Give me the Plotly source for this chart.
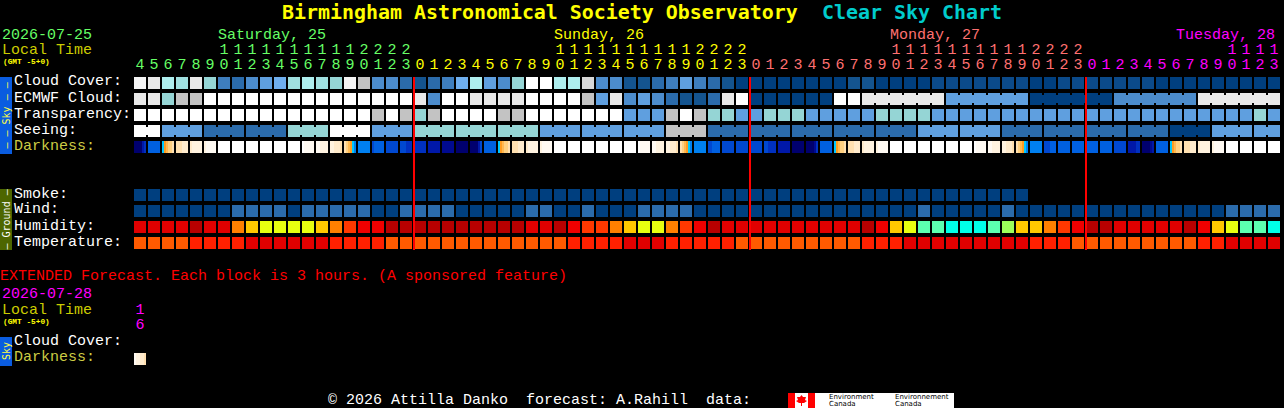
import plotly.graph_objects as go

W, H = 1284, 408

# ---- axis scale: column pitch 14 px, row pitch 16 px
def X(px): return (px - 140) / 14
def Y(py): return (py - 83) / 16

# ---- palettes
SKY = ['#003F7F', '#14548F', '#2B6BAB', '#3E7EBE', '#4C8CCC', '#5F9FDF', '#6FAFEF', '#95D5D5',
       '#A0E0E0', '#AEEEEE', '#C3C3C3', '#D8D8D8', '#E9E9E9', '#F4F4F4', '#FFFFFF', '#0B4A8A']
HUM = {'a': '#B80000', 'b': '#E00000', 'c': '#F00000', 'd': '#FF3800', 'e': '#FF8000', 'f': '#FFC800',
       'g': '#E8FF10', 'h': '#9CFF5A', 'i': '#5CFFB0', 'j': '#00FFE8'}
TMP = {'r': '#E00000', 's': '#FF2000', 't': '#FF5A00'}
DARK = ['#000050', '#00006E', '#000A90', '#0018A8', '#0030C0', '#0048D0', '#0060E0', '#0080F0', '#00C8FF',
        '#FF9C20', '#FFB850', '#FFD080', '#FFE0B0', '#FFEBCC', '#FFF3E0', '#FFFAF3', '#FFFFFF']

# ---- data
HOURS = [4,5,6,7,8,9,10,11,12,13,14,15,16,17,18,19,20,21,22,23,
         0,1,2,3,4,5,6,7,8,9,10,11,12,13,14,15,16,17,18,19,20,21,22,23,
         0,1,2,3,4,5,6,7,8,9,10,11,12,13,14,15,16,17,18,19,20,21,22,23,
         0,1,2,3,4,5,6,7,8,9,10,11,12,13]
MIDNIGHTS = [20, 44, 68]

CLOUD = [13,12,9,8,12,7,3,2,4,5,6,8,9,8,7,13,10,4,4,2,
         1,2,3,6,9,5,4,7,14,14,9,9,11,4,4,1,1,2,3,5,3,2,1,0,
         0,0,0,0,0,0,0,1,1,0,0,0,0,15,15,15,15,15,15,15,0,0,15,15,
         15,15,15,15,15,0,0,0,0,0,0,0,0,0]
ECMWF = [12,12,7,10,10,14,14,14,14,14,14,14,14,14,14,14,14,14,14,14,
         12,4,14,14,12,12,12,12,14,14,14,14,10,5,12,4,5,4,2,1,1,2,12,14,
         0,0,0,0,0,0,14,14,12,12,12,12,12,12,5,5,5,5,5,5,0,0,0,0,
         0,0,4,4,4,4,4,4,12,12,12,12,12,12]
ECMWF_JOIN = [52,53,54,55,56, 58,59,60,61,62, 64,65,66,67,68, 70,71,72,73,74, 76,77,78,79,80]
TRANSP = [14,14,14,14,14,14,14,14,14,14,14,14,14,14,14,14,14,10,14,10,
          7,10,14,14,14,14,10,10,14,14,14,14,14,14,14,5,5,5,10,14,10,7,7,5,
          5,7,7,7,5,5,5,5,5,7,7,7,7,5,5,5,5,5,5,5,5,5,5,5,
          5,5,5,5,5,5,5,5,5,5,5,5,7,5]
SEEING = [14,14,5,5,5,2,2,2,2,2,2,7,7,7,14,14,14,5,5,5,
          7,7,7,7,7,7,7,7,7,5,5,5,5,5,5,5,5,5,10,10,10,2,2,2,
          2,2,2,2,2,2,2,2,2,2,2,2,5,5,5,5,5,5,2,2,2,2,2,2,
          2,2,2,2,2,2,0,0,0,5,5,5,5,5]
SEEING_JOIN = [0, 2,3, 5,6, 8,9, 11,12, 14,15, 17,18, 20,21, 23,24, 26,27, 29,30, 32,33, 35,36, 38,39,
               41,42, 44,45, 47,48, 50,51, 53,54, 56,57, 59,60, 62,63, 65,66, 68,69, 71,72, 74,75, 77,78, 80]
SMOKE = [0] * 64
WIND = [0,0,0,0,0,0,0,2,2,2,2,0,2,2,2,2,2,0,0,2,
        2,2,2,0,0,0,0,0,2,2,0,0,2,0,0,0,2,2,2,2,0,0,0,0,
        0,0,0,0,0,0,0,0,0,0,0,0,2,0,0,0,0,0,2,0,0,0,0,0,
        0,0,0,0,0,0,0,0,0,0,2,2,2,2]
HUMIDITY = list('bbbbabbefggggfedccaa' 'aaaaaaaabbacddefggedcabb' 'bbbbbbbbacfgiijjjihffedc' 'aabbbbbacfgiij')
TEMPERATURE = list('ttttssssrrrrrrsssstt' 'tttttttttttssssrrrssssst' 'ttttttttsssrrrrrrrrrssst' 'ttttttttssrrrr')
DARKNESS = [
 [1,1,1,1,3,4],[6,6,6,6,6,6],[8,9,10,11,11,12],[12,12,12,13,13,13],[13,14,14,14,14,14],[14,15,15,15,15,15],
 [16]*6,[16]*6,[16]*6,[16]*6,[16]*6,[16]*6,
 [16,15,15,15,15,15],[15,15,14,14,14,14],[14,14,13,13,13,12],[12,11,10,9,8,7],[7,7,7,7,7,7],[5,6,6,6,6,6],
 [5,5,5,5,5,5],[5,5,5,4,4,4],
 [4,4,4,4,4,4],[3,3,3,3,3,3],[2,2,2,2,2,2],[1,1,1,1,1,1],[1,1,1,1,3,5],[6,6,6,6,6,6],[8,9,10,11,11,12],
 [12,12,12,13,13,13],[13,14,14,14,14,14],[14,15,15,15,15,15],
 [16]*6,[16]*6,[16]*6,[16]*6,[16]*6,[16]*6,
 [16,15,15,15,15,15],[15,15,14,14,14,14],[14,14,13,13,13,12],[12,11,10,9,8,7],[7,7,7,7,7,7],[5,5,6,6,6,6],
 [5,5,5,5,5,5],[5,5,5,5,5,5],
 [5,5,5,5,5,5],[5,5,4,4,4,4],[3,3,3,3,3,3],[1,1,1,1,1,1],[1,1,1,1,2,4],[6,6,6,6,6,6],[8,9,10,11,11,12],
 [12,12,12,13,13,13],[13,14,14,14,14,14],[14,15,15,15,15,15],
 [16]*6,[16]*6,[16]*6,[16]*6,[16]*6,[16]*6,
 [16,15,15,15,15,15],[15,15,14,14,14,14],[14,14,13,13,13,12],[12,11,10,9,8,7],[7,7,7,7,7,7],[5,5,5,6,6,6],
 [6,6,6,6,6,6],[6,6,6,6,6,6],
 [6,6,6,6,6,6],[6,6,6,6,6,6],[5,5,5,5,5,5],[3,3,3,3,4,4],[1,1,1,1,2,3],[6,6,6,6,6,6],[8,9,10,11,11,12],
 [12,12,12,13,13,13],[13,14,14,14,14,14],[14,15,15,15,15,15],
 [16]*6,[16]*6,[16]*6,[16]*6,
]
EXT_DARKNESS = [15,14,14,13,13,12]

ROWS = {'Cloud Cover:': 0, 'ECMWF Cloud:': 1, 'Transparency:': 2, 'Seeing:': 3, 'Darkness:': 4,
        'Smoke:': 7, 'Wind:': 8, 'Humidity:': 9, 'Temperature:': 10}
EXT_DARK_ROW = Y(359)

CELL_W, CELL_H = 12 / 14, 12 / 16

fig = go.Figure()

def add_row(colors, row, width=CELL_W, height=CELL_H, xs=None):
    xs = list(range(len(colors))) if xs is None else xs
    fig.add_trace(go.Bar(x=xs, y=[height] * len(colors), base=[row - height / 2] * len(colors),
                         width=width, marker=dict(color=colors, line=dict(width=0)),
                         hoverinfo='skip', showlegend=False))

def add_joins(values, joins, row):
    add_row([SKY[values[j]] for j in joins], row, width=2 / 14, height=8 / 16, xs=[j + 0.5 for j in joins])

add_row([SKY[v] for v in CLOUD], ROWS['Cloud Cover:'])
add_row([SKY[v] for v in ECMWF], ROWS['ECMWF Cloud:'])
add_joins(ECMWF, ECMWF_JOIN, ROWS['ECMWF Cloud:'])
add_row([SKY[v] for v in TRANSP], ROWS['Transparency:'])
add_row([SKY[v] for v in SEEING], ROWS['Seeing:'])
add_joins(SEEING, SEEING_JOIN, ROWS['Seeing:'])
add_row([SKY[v] for v in SMOKE], ROWS['Smoke:'])
add_row([SKY[v] for v in WIND], ROWS['Wind:'])
add_row([HUM[v] for v in HUMIDITY], ROWS['Humidity:'])
add_row([TMP[v] for v in TEMPERATURE], ROWS['Temperature:'])

def add_dark(cells, row):
    xs, cs = [], []
    for i, samples in enumerate(cells):
        for s, v in enumerate(samples):
            xs.append(i + (s - 2.5) * 2 / 14)
            cs.append(DARK[v])
    add_row(cs, row, width=2 / 14, xs=xs)

add_dark(DARKNESS, ROWS['Darkness:'])
add_dark([EXT_DARKNESS], EXT_DARK_ROW)

# ---- hour digits
def day_color(i):
    return '#66FF66' if i < MIDNIGHTS[0] else '#FFFF00' if i < MIDNIGHTS[1] else '#FF7070' if i < MIDNIGHTS[2] else '#FF00FF'

MONO = 'Liberation Mono'
cols = list(range(len(HOURS)))
tens = [i for i in cols if HOURS[i] >= 10]
fig.add_trace(go.Scatter(x=tens, y=[Y(50.5)] * len(tens), mode='text', text=[str(HOURS[i] // 10) for i in tens],
                         textfont=dict(family=MONO, size=15, color=[day_color(i) for i in tens]),
                         hoverinfo='skip', showlegend=False))
fig.add_trace(go.Scatter(x=cols, y=[Y(65.5)] * len(cols), mode='text', text=[str(h % 10) for h in HOURS],
                         textfont=dict(family=MONO, size=15, color=[day_color(i) for i in cols]),
                         hoverinfo='skip', showlegend=False))
fig.add_trace(go.Scatter(x=[0, 0], y=[Y(310.5), Y(325.5)], mode='text', text=['1', '6'],
                         textfont=dict(family=MONO, size=15, color='#FF00FF'),
                         hoverinfo='skip', showlegend=False))

# ---- text
anns = []
def label(text, px, py, color='#FFFFFF', size=15, bold=False, family=MONO, angle=0, anchor='left'):
    if bold:
        text = '<b>' + text + '</b>'
    anns.append(dict(text=text, x=px / W, y=1 - py / H, xref='paper', yref='paper', xanchor=anchor, yanchor='middle',
                     showarrow=False, borderpad=0, borderwidth=0, textangle=angle,
                     font=dict(family=family, size=size, color=color)))

NB = '\u00a0'
DASH = '\u2014'
SIDE = 'DejaVu Sans Mono'
label('Birmingham Astronomical Society Observatory', 282, 12, '#FFFF00', 19.93, True, 'DejaVu Sans Mono')
label('Clear Sky Chart', 822, 12, '#00CCCC', 19.93, True, 'DejaVu Sans Mono')
label('2026-07-25', 2, 35, '#66FF66')
label('Local Time', 2, 50, '#CCCC00')
label('(GMT -5+0)', 3, 62, '#FFFF00', 7.8, True)
label('Saturday, 25', 218, 35, '#66FF66')
label('Sunday, 26', 554, 35, '#FFFF00')
label('Monday, 27', 890, 35, '#FF7070')
label('Tuesday, 28', 1176, 35, '#FF00FF')
for name, row in ROWS.items():
    label(name, 14, 83 + 16 * row - 1.0, '#CCCC44' if name == 'Darkness:' else '#FFFFFF')
label('EXTENDED Forecast. Each block is 3 hours. (A sponsored feature)', 0, 276, '#FF0000')
label('2026-07-28', 2, 294, '#FF00FF')
label('Local Time', 2, 310, '#CCCC00')
label('(GMT -5+0)', 3, 322, '#FFFF00', 7.8, True)
label('Cloud Cover:', 14, 341)
label('Darkness:', 14, 357, '#CCCC44')
label(f'© 2026 Attilla Danko{NB}{NB}forecast: A.Rahill{NB}{NB}data:', 328, 400)
label(f'{DASH}{NB}{DASH}{NB}Sky{NB}{DASH}{NB}{DASH}', 6, 115.5, '#FFFF44', 10, False, SIDE, -90, 'center')
label(f'{DASH}{NB}Ground{NB}{DASH}', 6, 219.5, '#FFFFFF', 10, False, SIDE, -90, 'center')
label('Sky', 6, 351, '#FFFF44', 10, False, SIDE, -90, 'center')
label('Environment', 829, 397, '#000000', 7, False, 'DejaVu Sans')
label('Canada', 829, 404, '#000000', 7, False, 'DejaVu Sans')
label('Environnement', 895, 397, '#000000', 7, False, 'DejaVu Sans')
label('Canada', 895, 404, '#000000', 7, False, 'DejaVu Sans')

# ---- decoration
def rect(x0, y0, x1, y1, color):
    return dict(type='rect', xref='x', yref='y', x0=X(x0), x1=X(x1), y0=Y(y0), y1=Y(y1),
                fillcolor=color, line=dict(width=0), layer='below')

shapes = [rect(0, 77, 12, 154, '#0A5CE0'), rect(0, 189, 12, 250, '#4D6600'), rect(0, 337, 12, 366, '#0A5CE0'),
          rect(788, 393, 954, 408, '#FFFFFF'), rect(788, 393, 795, 408, '#FF0000'), rect(808, 393, 815, 408, '#FF0000')]
for m in MIDNIGHTS:
    shapes.append(dict(type='line', xref='x', yref='y', x0=m - 6 / 14, x1=m - 6 / 14, y0=Y(77), y1=Y(250),
                       line=dict(color='#FF0000', width=2), layer='above'))
leaf = [(801.5, 395), (803, 397), (806, 397), (805, 400), (807, 401), (804, 403), (802, 403), (802, 406),
        (801, 406), (801, 403), (799, 403), (796, 401), (798, 400), (797, 397), (800, 397)]
shapes.append(dict(type='path', xref='x', yref='y', fillcolor='#FF0000', line=dict(width=0), layer='above',
                   path='M ' + ' L '.join(f'{X(a):.4f},{Y(b):.4f}' for a, b in leaf) + ' Z'))

fig.update_layout(
    width=W, height=H, autosize=False, margin=dict(l=0, r=0, t=0, b=0, pad=0),
    paper_bgcolor='#000000', plot_bgcolor='#000000', barmode='overlay', bargap=0, showlegend=False,
    xaxis=dict(range=[X(0), X(W)], visible=False, fixedrange=True),
    yaxis=dict(range=[Y(H), Y(0)], visible=False, fixedrange=True),
    annotations=anns, shapes=shapes,
)

fig.write_html('out.html', config={'displayModeBar': False},
               post_script="document.body.style.margin='0';document.body.style.background='#000';document.body.style.overflow='hidden';")
